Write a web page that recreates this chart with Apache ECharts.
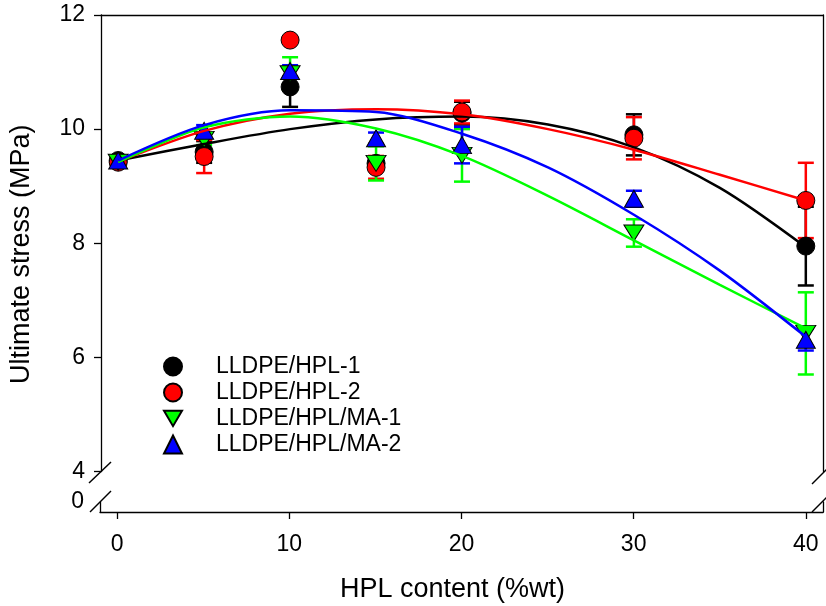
<!DOCTYPE html>
<html>
<head>
<meta charset="utf-8">
<script src="https://cdn.jsdelivr.net/npm/echarts@6/dist/echarts.min.js"></script>
<style>
html,body{margin:0;padding:0;background:#fff;}
#chart{width:826px;height:606px;}
</style>
</head>
<body>
<div id="chart"></div>
<script>
// ---- data ----
const xValues = [0, 5, 10, 15, 20, 30, 40];
const hpl1    = [9.45, 9.60, 10.74, 9.40, 10.28, 9.90, 7.95];
const hpl1Err = [0.05, 0.19, 0.35, 0.10, 0.20, 0.36, 0.69];
const hpl2    = [9.42, 9.52, 11.56, 9.33, 10.30, 9.84, 8.75];
const hpl2Err = [0.05, 0.29, 0.05, 0.20, 0.20, 0.37, 0.66];
const ma1     = [9.42, 9.82, 10.97, 9.40, 9.54, 8.18, 6.42];
const ma1Err  = [0.05, 0.10, 0.29, 0.30, 0.46, 0.24, 0.72];
const ma2     = [9.45, 9.97, 11.02, 9.84, 9.72, 8.78, 6.31];
const ma2Err  = [0.05, 0.10, 0.10, 0.10, 0.32, 0.14, 0.19];

// fitted curves, values
const fitX  = [0, 5, 10, 15, 20, 25, 30, 35, 40];
const fit1  = [9.45, 9.74, 10.00, 10.17, 10.22, 10.08, 9.68, 8.97, 7.93];
const fit2  = [9.43, 9.97, 10.27, 10.35, 10.26, 10.00, 9.64, 9.20, 8.75];
const fit3  = [9.42, 10.03, 10.22, 10.01, 9.53, 8.83, 8.05, 7.27, 6.51];
const fit4  = [9.45, 10.07, 10.33, 10.30, 9.92, 9.33, 8.50, 7.52, 6.36];

const xTicks = [0, 10, 20, 30, 40];
const yTicks = [4, 6, 8, 10, 12];
const names = ['LLDPE/HPL-1', 'LLDPE/HPL-2', 'LLDPE/HPL/MA-1', 'LLDPE/HPL/MA-2'];
const colors = ['#000000', '#ff0000', '#00ff00', '#0000ff'];

const FONT = "'Liberation Sans', Arial, Helvetica, sans-serif";
const downTri = 'path://M0,0L20,0L10,17Z';

function pairs(xs, ys) { return xs.map((x, i) => [x, ys[i]]); }
function errData(xs, ys, es) { return xs.map((x, i) => [x, ys[i] - es[i], ys[i] + es[i]]); }

function errSeries(name, color, xs, ys, es) {
  return {
    type: 'custom', name: name + ' err', xAxisIndex: 0, yAxisIndex: 0,
    data: errData(xs, ys, es), silent: true,
    renderItem: function (params, api) {
      const x = api.value(0);
      const lo = api.coord([x, api.value(1)]);
      const hi = api.coord([x, api.value(2)]);
      const w = 8;
      const st = { stroke: color, lineWidth: 2.5 };
      return {
        type: 'group',
        children: [
          { type: 'line', shape: { x1: lo[0], y1: lo[1], x2: hi[0], y2: hi[1] }, style: st },
          { type: 'line', shape: { x1: lo[0] - w, y1: lo[1], x2: lo[0] + w, y2: lo[1] }, style: st },
          { type: 'line', shape: { x1: hi[0] - w, y1: hi[1], x2: hi[0] + w, y2: hi[1] }, style: st }
        ]
      };
    }
  };
}
function fitSeries(name, color, ys) {
  return {
    type: 'line', name: name + ' fit', xAxisIndex: 0, yAxisIndex: 0,
    data: pairs(fitX, ys), smooth: 0.3, symbol: 'none', silent: true,
    lineStyle: { color: color, width: 2.5 }
  };
}
function ptSeries(name, color, ys, symbol, size) {
  return {
    type: 'scatter', name: name, xAxisIndex: 0, yAxisIndex: 0,
    data: pairs(xValues, ys), symbol: symbol, symbolSize: size,
    itemStyle: { color: color, borderColor: '#000', borderWidth: 1, opacity: 1 }
  };
}

const chart = echarts.init(document.getElementById('chart'));
const axisLineStyle = { color: '#000', width: 1.3 };

chart.setOption({
  animation: false,
  backgroundColor: '#fff',
  textStyle: { fontFamily: FONT, color: '#000' },
  grid: [
    { left: 100, right: 3, top: 15, height: 456.5 },
    { left: 100, right: 3, top: 502, height: 10 }
  ],
  xAxis: [
    { type: 'value', gridIndex: 0, min: -1, max: 41, position: 'top',
      axisLine: { show: true, lineStyle: axisLineStyle }, axisTick: { show: false },
      axisLabel: { show: false }, splitLine: { show: false } },
    { type: 'value', gridIndex: 1, min: -1, max: 41, position: 'bottom',
      axisLine: { show: true, onZero: false, lineStyle: axisLineStyle },
      axisTick: { show: true, inside: false, length: 7, customValues: xTicks, lineStyle: { color: '#000', width: 1.3 } },
      axisLabel: { show: true, customValues: xTicks, margin: 21, fontSize: 23, color: '#000', fontFamily: FONT },
      splitLine: { show: false },
      name: 'HPL content (%wt)', nameLocation: 'middle', nameGap: 64,
      nameTextStyle: { fontSize: 27, color: '#000', fontFamily: FONT, padding: [0, 18, 0, 0] } }
  ],
  yAxis: [
    { type: 'value', gridIndex: 0, min: 4, max: 12, interval: 2, position: 'left',
      axisLine: { show: true, onZero: false, lineStyle: axisLineStyle },
      axisTick: { show: true, inside: false, length: 7, lineStyle: { color: '#000', width: 1.3 } },
      axisLabel: { show: true, margin: 16, fontSize: 23, color: '#000', fontFamily: FONT,
        formatter: function (v) { return yTicks.indexOf(v) >= 0 ? String(v) : ''; } },
      splitLine: { show: false },
      name: 'Ultimate stress (MPa)', nameLocation: 'middle', nameGap: 66,
      nameTextStyle: { fontSize: 27, color: '#000', fontFamily: FONT, padding: [0, 22, 0, 0] } },
    { type: 'value', gridIndex: 0, min: 4, max: 12, position: 'right',
      axisLine: { show: true, onZero: false, lineStyle: axisLineStyle },
      axisTick: { show: false }, axisLabel: { show: false }, splitLine: { show: false } },
    { type: 'value', gridIndex: 1, min: -1, max: 0, interval: 1, position: 'left',
      axisLine: { show: true, onZero: false, lineStyle: axisLineStyle },
      axisTick: { show: false },
      axisLabel: { show: true, margin: 16, fontSize: 23, color: '#000', fontFamily: FONT,
        formatter: function (v) { return v === 0 ? '0' : ''; } },
      splitLine: { show: false } },
    { type: 'value', gridIndex: 1, min: -1, max: 0, position: 'right',
      axisLine: { show: true, onZero: false, lineStyle: axisLineStyle },
      axisTick: { show: false }, axisLabel: { show: false }, splitLine: { show: false } }
  ],
  legend: {
    orient: 'vertical', left: 163, top: 355, padding: 0,
    itemWidth: 18, itemHeight: 18, itemGap: 3,
    data: names,
    textStyle: { fontSize: 23, color: '#000', fontFamily: FONT, padding: [0, 0, 0, 29] },
    selectedMode: false
  },
  series: [
    fitSeries(names[0], colors[0], fit1),
    fitSeries(names[1], colors[1], fit2),
    fitSeries(names[2], colors[2], fit3),
    fitSeries(names[3], colors[3], fit4),
    errSeries(names[0], colors[0], xValues, hpl1, hpl1Err),
    ptSeries(names[0], colors[0], hpl1, 'circle', 18),
    errSeries(names[1], colors[1], xValues, hpl2, hpl2Err),
    ptSeries(names[1], colors[1], hpl2, 'circle', 18),
    errSeries(names[2], colors[2], xValues, ma1, ma1Err),
    ptSeries(names[2], colors[2], ma1, downTri, [20, 16]),
    errSeries(names[3], colors[3], xValues, ma2, ma2Err),
    ptSeries(names[3], colors[3], ma2, 'triangle', [19, 17])
  ],
  graphic: [
    { type: 'line', shape: { x1: 89, y1: 483, x2: 111, y2: 462 }, style: { stroke: '#000', lineWidth: 1.5 } },
    { type: 'line', shape: { x1: 90, y1: 512, x2: 111, y2: 491 }, style: { stroke: '#000', lineWidth: 1.5 } },
    { type: 'line', shape: { x1: 812, y1: 484, x2: 834, y2: 462 }, style: { stroke: '#000', lineWidth: 1.5 } },
    { type: 'line', shape: { x1: 812, y1: 512, x2: 834, y2: 490 }, style: { stroke: '#000', lineWidth: 1.5 } }
  ]
});
</script>
</body>
</html>
